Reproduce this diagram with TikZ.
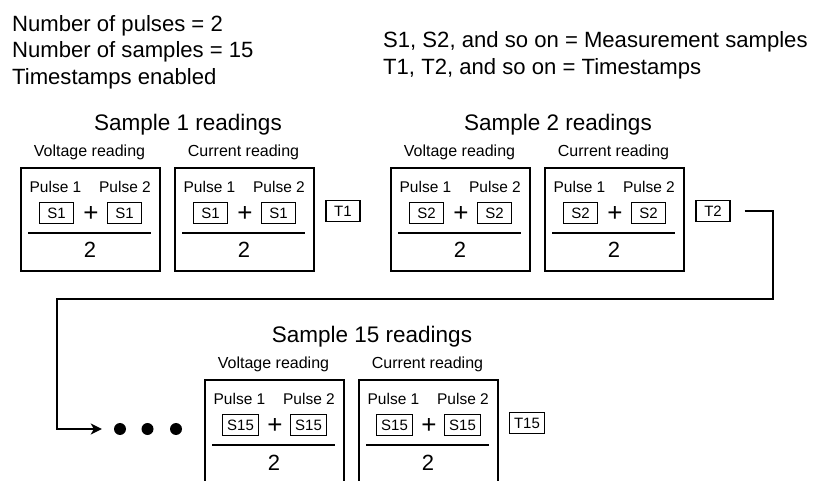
\documentclass[tikz,border=0pt]{standalone}
\usepackage{fontspec}
\setmainfont{Liberation Sans}
\usetikzlibrary{calc,arrows.meta}
\tikzset{
  bigtxt/.style={inner sep=0pt, font=\fontsize{22.5}{26}\selectfont},
  keytxt/.style={inner sep=0pt, font=\fontsize{22.1}{26}\selectfont},
  midtxt/.style={inner sep=0pt, font=\fontsize{16}{18}\selectfont},
  pulsetxt/.style={inner sep=0pt, anchor=base, font=\fontsize{15.5}{18}\selectfont},
  rbox/.style={draw, line width=1.8pt, minimum width=139pt, minimum height=103pt, inner sep=0pt, anchor=north west},
  sbox/.style={draw, line width=1.2pt, minimum width=34pt, minimum height=21pt, inner sep=0pt, inner xsep=4.5pt, font=\fontsize{15}{16}\selectfont},
  plus/.style={inner sep=0pt, font=\fontsize{26}{28}\selectfont},
  twotxt/.style={inner sep=0pt, anchor=base, font=\fontsize{22}{26}\selectfont},
  fracline/.style={line width=2pt},
  conn/.style={line width=1.6pt},
  dotnode/.style={circle, fill=black, minimum size=12pt, inner sep=0pt},
}
% reading box: #1,#2 top-left; #3 sample label; #4 name prefix
\newcommand{\readingbox}[4]{%
  \begin{scope}[shift={(#1,#2)}]
    \node[rbox] (#4) at (0,0) {};
    \node[pulsetxt] (#4pa) at (35.5,26) {Pulse 1};
    \node[pulsetxt] (#4pb) at (105,26) {Pulse 2};
    \node[sbox] (#4sa) at (36.5,46) {#3};
    \node[sbox] (#4sb) at (104.5,46) {#3};
    \node[plus] (#4plus) at (71,47) {+};
    \draw[fracline] (8,66) -- (131,66);
    \node[twotxt] (#4two) at (70,91) {2};
  \end{scope}}
% sample block: #1,#2 top-left of voltage box; #3 sample number; #4 S label; #5 T label; #6 prefix
\newcommand{\sampleblock}[6]{%
  \begin{scope}[shift={(#1,#2)}]
    \node[bigtxt, anchor=base] (#6head) at (168,-36) {Sample #3 readings};
    \node[midtxt, anchor=base] (#6vl) at (69.5,-10) {Voltage reading};
    \node[midtxt, anchor=base] (#6cl) at (223.5,-10) {Current reading};
    \node[sbox] (#6t) at (323,44) {#5};
  \end{scope}
  \readingbox{#1}{#2}{#4}{#6v}%
  \readingbox{#1+154}{#2}{#4}{#6c}%
}
\begin{document}
\begin{tikzpicture}[x=1pt,y=-1pt]
  \useasboundingbox (0,0) rectangle (815,481);
  \clip (0,0) rectangle (815,481);
  \node[keytxt, anchor=base west] (p1) at (12,32) {Number of pulses = 2};
  \node[keytxt, anchor=base west] (p2) at (12,58) {Number of samples = 15};
  \node[keytxt, anchor=base west] (p3) at (12,85) {Timestamps enabled};
  \node[keytxt, anchor=base west] (k1) at (383,48) {S1, S2, and so on = Measurement samples};
  \node[keytxt, anchor=base west] (k2) at (383,75) {T1, T2, and so on = Timestamps};

  \sampleblock{20}{167}{1}{S1}{T1}{a}
  \sampleblock{390}{167}{2}{S2}{T2}{b}
  \sampleblock{204}{379}{15}{S15}{T15}{c}

  \node[dotnode] (dot1) at (120,429) {};
  \node[dotnode] (dot2) at (147.5,429) {};
  \node[dotnode] (dot3) at (176,429) {};

  \coordinate (c1) at (773,299);
  \coordinate (c2) at (57,299);
  \draw[conn, -{Stealth[length=11pt,width=11pt,inset=3pt]}]
    ([xshift=14pt]bt.east) -| (c1) -- (c2) |- ([xshift=-12pt]dot1.west);
\end{tikzpicture}
\end{document}
